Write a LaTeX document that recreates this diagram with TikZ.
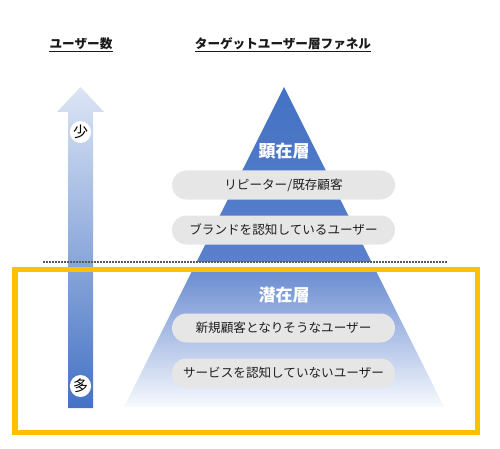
\documentclass[tikz,border=0pt]{standalone}
\usepackage{fontspec}
\setmainfont{Noto Sans CJK JP}
\usetikzlibrary{shapes.geometric}
\definecolor{blueA}{HTML}{4472C4}
\definecolor{blueB}{HTML}{5A80CC}
\definecolor{arrowTop}{HTML}{DCE5F4}
\definecolor{arrowMid}{HTML}{A3B9E3}
\definecolor{lowTop}{HTML}{6A8CD1}
\definecolor{lowMid}{HTML}{B0C2E8}
\definecolor{lowBot}{HTML}{F7F9FD}
\definecolor{pillFill}{HTML}{E6E6E6}
\definecolor{pillText}{HTML}{1F1F1F}
\definecolor{titleText}{HTML}{1A1A1A}
\definecolor{boxYellow}{HTML}{FFC000}
\definecolor{dotGray}{HTML}{595959}
\tikzset{
  titlebox/.style={inner sep=0pt, text=titleText, font=\bfseries\fontsize{12.6}{14}\selectfont},
  pill/.style={rectangle, rounded corners=14.5pt, fill=pillFill, minimum width=223pt, minimum height=29pt, inner sep=0pt, text=pillText, font=\fontsize{12.6}{14}\selectfont},
  layerlabel/.style={inner sep=0pt, text=white, font=\bfseries\fontsize{17}{19}\selectfont},
  circlabel/.style={ellipse, fill=white, minimum width=20pt, minimum height=22pt, inner sep=0pt, text=black, font=\fontsize{15}{17}\selectfont},
  underline/.style={line width=0.9pt, draw=titleText},
  dotline/.style={line width=1.5pt, draw=dotGray, dash pattern=on 1.5pt off 1.5pt},
}
\begin{document}
\begin{tikzpicture}[x=1pt,y=-1pt]
\useasboundingbox (0,0) rectangle (500,449);
% titles
\node[titlebox] (t1) at (81,44) {ユーザー数};
\node[titlebox] (t2) at (283,44) {ターゲットユーザー層ファネル};
\draw[underline] ([yshift=-1.5pt]t1.south west) -- ([yshift=-1.5pt]t1.south east);
\draw[underline] ([yshift=-1.5pt]t2.south west) -- ([yshift=-1.5pt]t2.south east);
% arrow
\shade[top color=arrowTop, middle color=arrowMid, bottom color=blueA]
  (68,408) -- (68,112) -- (57,112) -- (80.5,87) -- (104,112) -- (93,112) -- (93,408) -- cycle;
\node[circlabel] (few) at (80.5,132) {少};
\node[circlabel] (many) at (80.5,386) {多};
% funnel upper
\shade[top color=blueA, bottom color=blueB] (284,87) -- (371.5,262) -- (196.5,262) -- cycle;
% funnel lower
\shade[top color=lowTop, middle color=lowMid, bottom color=lowBot]
  (192,271) -- (376,271) -- (444,407) -- (124,407) -- cycle;
% labels
\node[layerlabel] (L1) at (284,151) {顕在層};
\node[pill] (p1) at (283.5,185) {リピーター/既存顧客};
\node[pill] (p2) at (283.5,230) {ブランドを認知しているユーザー};
\node[layerlabel] (L2) at (284,295) {潜在層};
\node[pill] (p3) at (283.5,328) {新規顧客となりそうなユーザー};
\node[pill] (p4) at (283.5,373) {サービスを認知していないユーザー};
% dotted divider
\coordinate (d1) at (43,262);
\coordinate (d2) at (447,262);
\draw[dotline] (d1) -- (d2);
% yellow box
\draw[line width=5.5pt, draw=boxYellow] (15,269.5) rectangle (477.5,432.5);
\end{tikzpicture}
\end{document}
